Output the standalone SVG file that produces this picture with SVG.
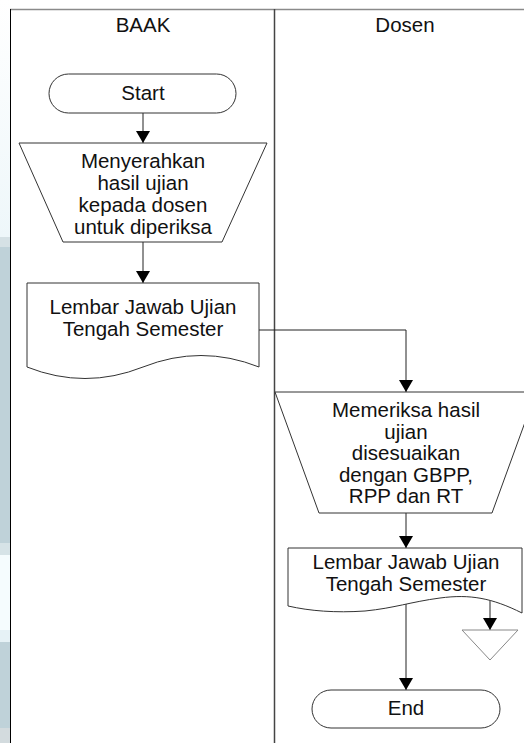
<svg xmlns="http://www.w3.org/2000/svg" width="524" height="743" viewBox="0 0 524 743">
  <defs>
    <style>
      .lbl { font-family: "Liberation Sans", Arial, sans-serif; font-size: 20.5px; fill: #111; text-anchor: middle; }
      .shape { fill: #fff; stroke: #333; stroke-width: 1; }
      .conn { fill: none; stroke: #222; stroke-width: 1; }
    </style>
    <marker id="arrow" markerUnits="userSpaceOnUse" markerWidth="13" markerHeight="14" refX="12" refY="7" orient="auto">
      <path d="M0,0 L12,7 L0,14 Z" fill="#000"/>
    </marker>
    <linearGradient id="edgeFade" x1="0" y1="0" x2="0" y2="1">
      <stop offset="0" stop-color="#ffffff"/>
      <stop offset="1" stop-color="#eef7fa"/>
    </linearGradient>
  </defs>

  <rect x="0" y="0" width="524" height="743" fill="#fff"/>

  <!-- tinted strip along the left margin -->
  <g id="margin-strip">
    <rect x="0" y="0" width="10" height="237" fill="url(#edgeFade)"/>
    <rect x="0" y="237" width="10" height="10" fill="#d5e1e5"/>
    <rect x="0" y="247" width="10" height="296" fill="#bfd2d9"/>
    <rect x="0" y="543" width="10" height="12" fill="#d6e3e7"/>
    <rect x="0" y="555" width="10" height="75" fill="#f5fcfe"/>
    <rect x="0" y="630" width="10" height="12" fill="#e6f2f6"/>
    <rect x="0" y="642" width="10" height="86" fill="#bfd2d9"/>
    <rect x="0" y="728" width="10" height="15" fill="#d3dbde"/>
  </g>

  <!-- swimlanes -->
  <g id="lanes">
    <line x1="10" y1="9.5" x2="524" y2="9.5" stroke="#8a8a8a" stroke-width="1.5"/>
    <line x1="10.5" y1="9" x2="10.5" y2="743" stroke="#000" stroke-width="1"/>
    <line x1="274.5" y1="9" x2="274.5" y2="743" stroke="#444" stroke-width="1.5"/>
    <text class="lbl" x="143" y="32">BAAK</text>
    <text class="lbl" x="405" y="32">Dosen</text>
  </g>

  <!-- connectors -->
  <g id="connectors">
    <path class="conn" d="M143,113 V143" marker-end="url(#arrow)"/>
    <path class="conn" d="M143,242 V283" marker-end="url(#arrow)"/>
    <path class="conn" d="M259,330 H406 V392" marker-end="url(#arrow)"/>
    <path class="conn" d="M406,513 V548" marker-end="url(#arrow)"/>
    <path class="conn" d="M406,603 V690" marker-end="url(#arrow)"/>
    <path class="conn" d="M490,599 V630" marker-end="url(#arrow)"/>
  </g>

  <g id="start">
    <rect class="shape" x="49" y="74" width="187" height="39" rx="19.5" ry="19.5"/>
    <text class="lbl" x="143" y="100">Start</text>
  </g>

  <g id="serahkan">
    <polygon class="shape" points="19,143 267,143 222,242 63,242"/>
    <text class="lbl" x="143" y="168">Menyerahkan</text>
    <text class="lbl" x="143" y="190">hasil ujian</text>
    <text class="lbl" x="143" y="212">kepada dosen</text>
    <text class="lbl" x="143" y="234">untuk diperiksa</text>
  </g>

  <g id="lembar-baak">
    <path class="shape" d="M27,283 H259 V367 Q201,344 143,367 Q85,390 27,367 Z"/>
    <text class="lbl" x="143" y="314">Lembar Jawab Ujian</text>
    <text class="lbl" x="143" y="335.5">Tengah Semester</text>
  </g>

  <g id="periksa">
    <polygon class="shape" points="275,392 536,392 492,513 319,513"/>
    <text class="lbl" x="406" y="417">Memeriksa hasil</text>
    <text class="lbl" x="406" y="438.5">ujian</text>
    <text class="lbl" x="406" y="460">disesuaikan</text>
    <text class="lbl" x="406" y="481.5">dengan GBPP,</text>
    <text class="lbl" x="406" y="503">RPP dan RT</text>
  </g>

  <g id="lembar-dosen">
    <path class="shape" d="M288,548 H522 V613 C492,598 470,594 440,598 C410,602 395,608 365,611 C335,613 310,611 288,606 Z"/>
    <text class="lbl" x="406" y="569">Lembar Jawab Ujian</text>
    <text class="lbl" x="406" y="590.5">Tengah Semester</text>
  </g>

  <g id="arsip">
    <polygon points="462,630 518,630 490,660" fill="#fff" stroke="#888" stroke-width="1"/>
  </g>

  <g id="end">
    <rect class="shape" x="312" y="690" width="188" height="38" rx="19" ry="19"/>
    <text class="lbl" x="406" y="715">End</text>
  </g>
</svg>
